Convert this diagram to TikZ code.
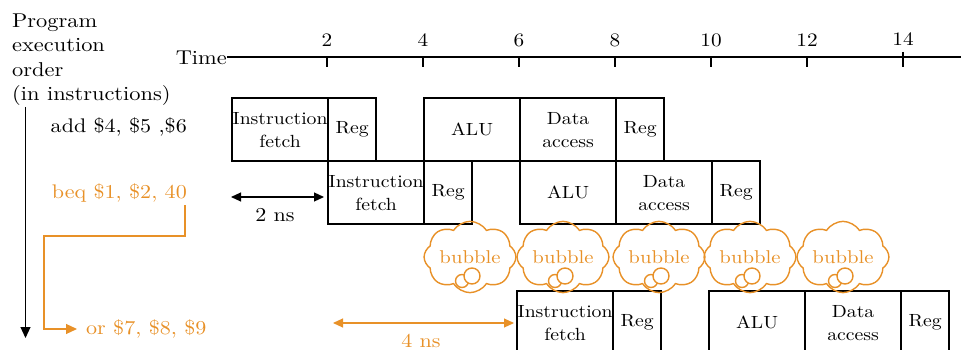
\documentclass[tikz,border=0pt]{standalone}
\usepackage{fontspec}
\setmainfont{lmroman10-regular.otf}[FakeStretch=1.12]
\usetikzlibrary{shapes.symbols,arrows.meta}
\definecolor{orng}{RGB}{232,145,40}
\begin{document}
\begin{tikzpicture}[x=1pt,y=-1pt,
  stage/.style={draw, line width=2.2pt, inner sep=0pt, align=center, anchor=north west,
    minimum height=63, font=\fontsize{17.6}{23}\selectfont},
  wide/.style={stage, minimum width=96},
  narrow/.style={stage, minimum width=48},
  hdr/.style={inner sep=0pt, font=\fontsize{20}{24.5}\selectfont},
  instr/.style={inner sep=0pt, font=\fontsize{19.7}{22}\selectfont},
  ticklab/.style={inner sep=0pt, font=\fontsize{19}{22}\selectfont},
  bub/.style={cloud, cloud puffs=8, cloud puff arc=115, aspect=1.5, draw=orng, line width=1.4pt,
    minimum width=90, minimum height=60, inner sep=0pt, text=orng, font=\fontsize{18.5}{20}\selectfont},
  thought/.style={circle, draw=orng, fill=white, line width=1.4pt, inner sep=0pt},
  tip/.style={-{Triangle[length=11pt,width=10pt]}},
  dtip/.style={{Triangle[length=10pt,width=9pt]}-{Triangle[length=10pt,width=9pt]}}
]
\useasboundingbox (0,0) rectangle (961,350);
\clip (0,0) rectangle (961,350);

% header
\node[hdr, align=left, anchor=north west] (hdr) at (12,13.5) {Program\\execution\\order\\(in instructions)};

% time axis
\node[hdr, anchor=east] (time) at (227,58) {Time};
\coordinate (axisend) at (961,57);
\draw[line width=1.1pt] (time.east |- axisend) -- (axisend);
\foreach \t/\x in {2/327,4/423,6/519,8/615,10/711,12/807} {
  \coordinate (tk\t) at (\x,57);
  \draw[line width=1.1pt] (tk\t) -- ++(0,10);
  \node[ticklab] (tl\t) at (\x,40) {\t};
}
\coordinate (tk14) at (903,57);
\draw[line width=1.1pt] (tk14) ++(0,-5) -- ++(0,15);
\node[ticklab] (tl14) at (903,39) {14};

% program order arrow
\coordinate (pstart) at (25.5,107);
\coordinate (pend) at (25.5,338);
\draw[line width=1.1pt, tip] (pstart) -- (pend);

% instruction labels
\node[instr, anchor=east] (add) at (187,127) {add \$4, \$5 ,\$6};
\node[instr, anchor=east, text=orng] (beq) at (187,193) {beq \$1, \$2, 40};
\node[instr, anchor=west, text=orng] (or) at (86,329) {or \$7, \$8, \$9};

% branch connector
\coordinate (brstart) at (185,205);
\draw[orng, line width=1.1pt, tip] (brstart) -- (185,236) -- (44,236) -- (44,329) -- ([xshift=-9pt]or.west);

% row 1
\node[wide]   (a1) at (231,97) {Instruction\\fetch};
\node[narrow] (a2) at (327,97) {Reg};
\node[wide]   (a3) at (423,97) {ALU};
\node[wide]   (a4) at (519,97) {Data\\access};
\node[narrow] (a5) at (615,97) {Reg};

% row 2
\node[wide]   (b1) at (327,160) {Instruction\\fetch};
\node[narrow] (b2) at (423,160) {Reg};
\node[wide]   (b3) at (519,160) {ALU};
\node[wide]   (b4) at (615,160) {Data\\access};
\node[narrow] (b5) at (711,160) {Reg};

% row 3
\node[wide]   (c1) at (516,290) {Instruction\\fetch};
\node[narrow] (c2) at (612,290) {Reg};
\node[wide]   (c3) at (708,290) {ALU};
\node[wide]   (c4) at (804,290) {Data\\access};
\node[narrow] (c5) at (900,290) {Reg};

% bubbles
\foreach \i/\x in {1/470,2/563,3/659,4/750,5/843} {
  \node[bub] (bb\i) at (\x,257) {bubble};
  \node[thought, minimum size=13] (ts\i) at (\x-8,281) {};
  \node[thought, minimum size=16] (tb\i) at (\x+2,276) {};
}

% 2 ns arrow
\coordinate (twoL) at (231,197);
\coordinate (twoR) at (324,197);
\draw[line width=1.1pt, dtip] (twoL) -- (twoR);
\node[instr] (twolab) at (275,215) {2 ns};

% 4 ns arrow
\coordinate (fourL) at (333,323);
\coordinate (fourR) at (514,323);
\draw[orng, line width=1.1pt, dtip] (fourL) -- (fourR);
\node[instr, text=orng] (fourlab) at (421,341) {4 ns};
\end{tikzpicture}
\end{document}
